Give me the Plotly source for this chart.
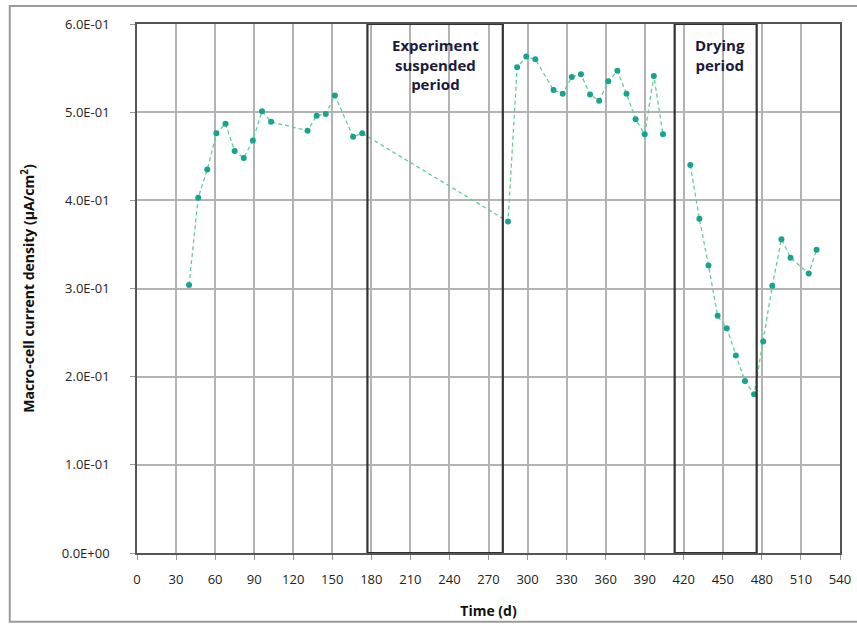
import plotly.graph_objects as go

# Data (days, current density µA/cm²); None marks the gap before the drying period
days = [40, 47, 54, 61, 68, 75, 82, 89, 96, 103, 131, 138, 145, 152, 166, 173,
        285, 292, 299, 306, 320, 327, 334, 341, 348, 355, 362, 369, 376, 383, 390, 397, 404,
        None,
        425, 432, 439, 446, 453, 460, 467, 474, 481, 488, 495, 502, 516, 522]
current = [0.304, 0.403, 0.435, 0.476, 0.487, 0.456, 0.448, 0.468, 0.501, 0.489, 0.479, 0.496, 0.498, 0.519, 0.472, 0.476,
           0.376, 0.551, 0.563, 0.560, 0.525, 0.521, 0.540, 0.543, 0.520, 0.513, 0.535, 0.547, 0.521, 0.492, 0.475, 0.541, 0.475,
           None,
           0.440, 0.379, 0.326, 0.269, 0.255, 0.224, 0.195, 0.180, 0.240, 0.303, 0.356, 0.335, 0.317, 0.344]

x_ticks = list(range(0, 541, 30))
y_tickvals = [0.0, 0.1, 0.2, 0.3, 0.4, 0.5, 0.6]
y_ticktext = ["0.0E+00", "1.0E-01", "2.0E-01", "3.0E-01", "4.0E-01", "5.0E-01", "6.0E-01"]

suspended_period = [177, 281]
drying_period = [413, 476]

FONT = "Open Sans, Lato, sans-serif"

fig = go.Figure()
fig.add_trace(go.Scatter(
    x=days, y=current, mode="lines+markers", connectgaps=False,
    line=dict(color="#5fcf95", width=1.3, dash="4px,3px"),
    marker=dict(color="#17a38e", size=6),
    showlegend=False,
))

for x0, x1 in (suspended_period, drying_period):
    fig.add_shape(type="rect", xref="x", yref="y", x0=x0, x1=x1, y0=0, y1=0.6,
                  line=dict(color="#333333", width=2.2), layer="above")

fig.add_annotation(x=(suspended_period[0] + suspended_period[1]) / 2, y=0.59, xref="x", yref="y",
                   text="<b>Experiment<br>suspended<br>period</b>", showarrow=False, yanchor="top",
                   font=dict(family=FONT, size=15, color="#1a1a3a"))
fig.add_annotation(x=448, y=0.59, xref="x", yref="y",
                   text="<b>Drying<br>period</b>", showarrow=False, yanchor="top",
                   font=dict(family=FONT, size=15, color="#1a1a3a"))

# outer frame
fig.add_shape(type="rect", xref="paper", yref="paper", x0=-0.181, x1=1.03, y0=-0.13, y1=1.034,
              line=dict(color="#9a9a9a", width=2), layer="below")

fig.update_xaxes(range=[0, 540], tickvals=x_ticks, showgrid=True, gridcolor="#b3b3b3", gridwidth=2,
                 showline=True, linecolor="#555555", linewidth=1.5, mirror=True,
                 ticks="outside", ticklen=5, tickcolor="#999999", zeroline=False,
                 automargin=False, ticklabelstandoff=9,
                 title=dict(text="<b>Time (d)</b>", font=dict(family=FONT, size=14, color="#111111"), standoff=19),
                 tickfont=dict(family=FONT, size=13, color="#222222"))
fig.update_yaxes(range=[0, 0.6], tickvals=y_tickvals, ticktext=y_ticktext, showgrid=True,
                 gridcolor="#b3b3b3", gridwidth=2,
                 showline=True, linecolor="#555555", linewidth=1.5, mirror=True,
                 ticks="outside", ticklen=5, tickcolor="#999999", zeroline=False,
                 automargin=False, ticklabelstandoff=18,
                 title=dict(text="<b>Macro-cell current density (µA/cm<sup>2</sup>)</b>",
                            font=dict(family=FONT, size=14, color="#111111"), standoff=24),
                 tickfont=dict(family=FONT, size=13, color="#222222"))

fig.update_layout(
    width=857, height=630,
    margin=dict(l=137, r=17, t=24, b=77),
    paper_bgcolor="white", plot_bgcolor="white",
    font=dict(family=FONT),
)

fig.write_html("out.html", config={"displayModeBar": False},
               post_script="document.body.style.margin='0px';")
